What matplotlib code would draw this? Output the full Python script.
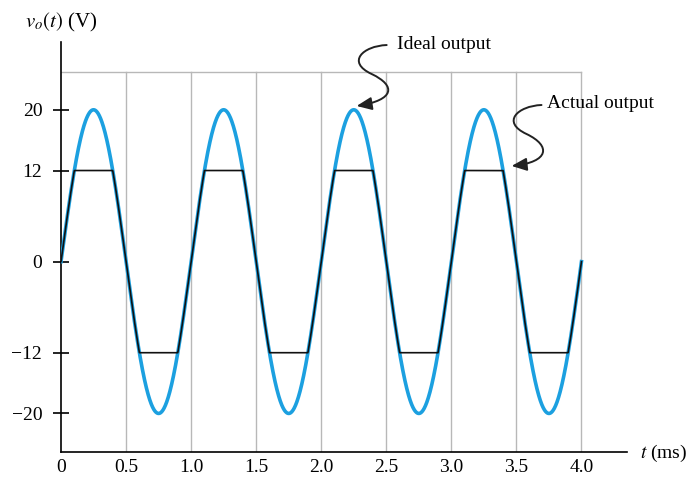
import numpy as np
import matplotlib.pyplot as plt
from matplotlib.patches import FancyArrowPatch
from matplotlib.path import Path

# Signal values
peak_v = 20          # ideal output amplitude (V)
clip_v = 12          # amplifier saturation level (V)
period_ms = 1.0      # one cycle per ms
t_end_ms = 4.0

y_ticks = [-20, -12, 0, 12, 20]
y_labels = ['\u221220', '\u221212', '0', '12', '20']
x_ticks = [0, 0.5, 1.0, 1.5, 2.0, 2.5, 3.0, 3.5, 4.0]
x_labels = ['0', '0.5', '1.0', '1.5', '2.0', '2.5', '3.0', '3.5', '4.0']
grid_top = 25

plt.rcParams['font.family'] = ['Liberation Serif', 'DejaVu Serif']
plt.rcParams['mathtext.fontset'] = 'stix'

t = np.linspace(0, t_end_ms, 2000)
ideal = peak_v * np.sin(2 * np.pi * t / period_ms)
actual = np.clip(ideal, -clip_v, clip_v)

fig = plt.figure(figsize=(6.88, 4.78), dpi=100)
ax = fig.add_axes([61 / 688, 1 - 452 / 478, 566 / 688, 410 / 478])
ax.set_xlim(0, 4.35)
ax.set_ylim(-25.08, 28.93)

# grid box
grid_col = '#b8b8b8'
for x in x_ticks[1:]:
    ax.plot([x, x], [-25.08, grid_top], color=grid_col, lw=1, zorder=1)
ax.plot([0, t_end_ms], [grid_top, grid_top], color=grid_col, lw=1, zorder=1)

ax.plot(t, ideal, color='#1ca0e0', lw=2.6, zorder=3)
ax.plot(t, actual, color='#111111', lw=1.2, zorder=4)

for s in ['top', 'right']:
    ax.spines[s].set_visible(False)
ax.spines['left'].set_linewidth(1.2)
ax.spines['bottom'].set_linewidth(1.2)

ax.set_yticks(y_ticks)
ax.set_yticklabels(y_labels, fontsize=14)
ax.set_xticks(x_ticks)
ax.set_xticklabels(x_labels, fontsize=14)
ax.tick_params(axis='y', direction='inout', length=11, width=1.2, pad=8)
ax.tick_params(axis='x', length=0, pad=5)

fig.text(25 / 688, 1 - 22 / 478, r'$v_o(t)$ (V)', fontsize=15, va='center', ha='left')
fig.text(640 / 688, 1 - 453 / 478, r'$t$ (ms)', fontsize=14, va='center', ha='left')

# curly annotation arrows
codes = [Path.MOVETO, Path.CURVE4, Path.CURVE4, Path.CURVE4,
         Path.CURVE4, Path.CURVE4, Path.CURVE4]
ideal_path = Path([(2.503, 28.53), (2.320, 28.40), (2.190, 26.29), (2.388, 24.71),
                   (2.580, 23.13), (2.560, 21.29), (2.272, 20.50)], codes)
actual_path = Path([(3.693, 20.63), (3.510, 20.50), (3.380, 18.39), (3.578, 16.81),
                    (3.770, 15.23), (3.750, 13.12), (3.463, 12.60)], codes)
for p in [ideal_path, actual_path]:
    arr = FancyArrowPatch(path=p, arrowstyle='-|>,head_length=0.7,head_width=0.3',
                          mutation_scale=13, color='#222222', lw=1.4,
                          transform=ax.transData, clip_on=False, zorder=5)
    ax.add_patch(arr)

ax.text(2.58, 28.66, 'Ideal output', fontsize=14, va='center', ha='left', clip_on=False)
ax.text(3.739, 20.89, 'Actual output', fontsize=14, va='center', ha='left', clip_on=False)

fig.savefig('out.png', dpi=100)
